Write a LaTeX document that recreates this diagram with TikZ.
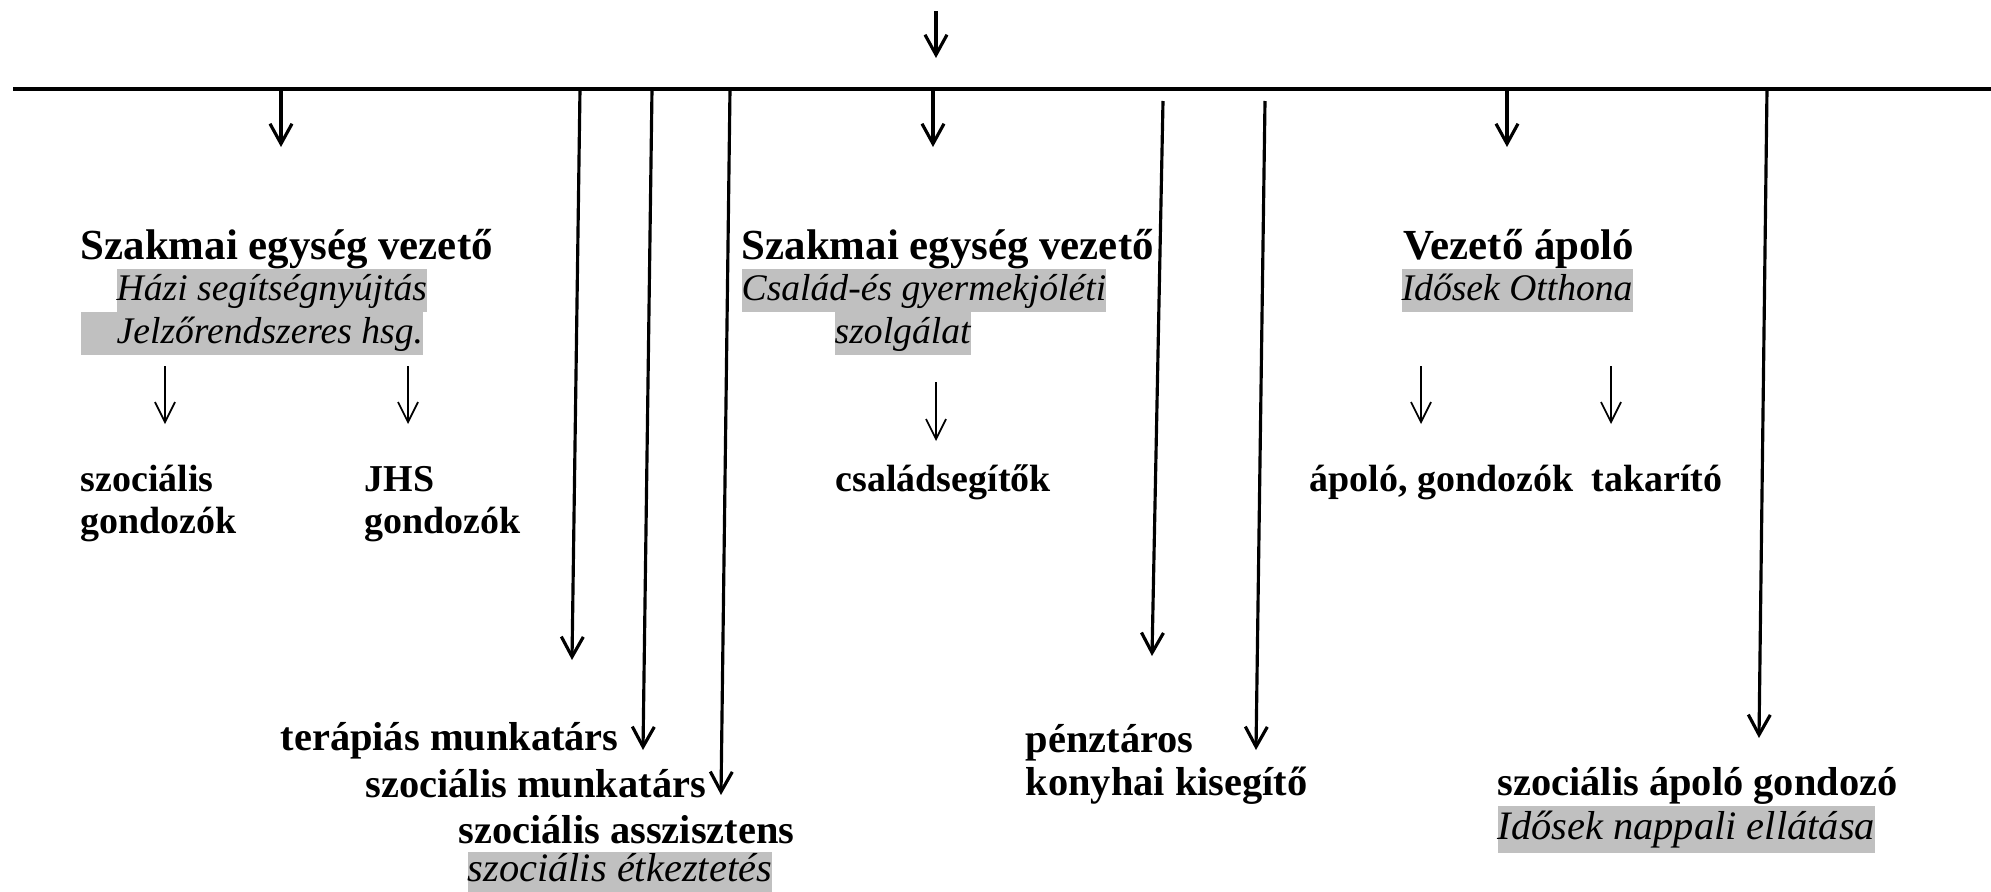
\documentclass[tikz,border=0pt]{standalone}
\usepackage{fontspec}
\setmainfont{Liberation Serif}
\usetikzlibrary{arrows.meta,positioning}
\definecolor{hlgray}{RGB}{192,192,192}

\begin{document}
\begin{tikzpicture}[
		head/.style={font=\fontsize{12.2}{14}\selectfont\bfseries, inner sep=0pt, anchor=base west},
		staff/.style={font=\fontsize{11.5}{13}\selectfont\bfseries, inner sep=0pt, anchor=base west},
		substaff/.style={staff, font=\fontsize{10.8}{13}\selectfont\bfseries},
		unit/.style={font=\fontsize{11.5}{13}\selectfont\itshape, fill=hlgray, inner sep=0pt, text height=0.32cm, text depth=0.11cm, anchor=north west},
		subunit/.style={unit, font=\fontsize{10.7}{13}\selectfont\itshape},
		link/.style={line width=0.9pt, -{Straight Barb[length=2mm,width=2.2mm]}},
		sublink/.style={line width=0.5pt, -{Straight Barb[length=2mm,width=2mm]}}]
	\useasboundingbox (0,0) rectangle (19.91,-8.92);
	% main bar
	\coordinate (barL) at (0.13,-0.89);
	\coordinate (barR) at (19.91,-0.89);
	\draw[line width=1.1pt] (barL) -- (barR);
	\coordinate (top) at (9.36,-0.11);
	\coordinate (topE) at (9.36,-0.58);
	\draw[link] (top) -- (topE);
	% unit heads
	\node[head] (sz1) at (0.80,-2.59) {Szakmai egység vezető};
	\node[subunit] (hazi) at (1.16,-2.68) {Házi segítségnyújtás};
	\node[subunit] (jelzo) at (0.80,-3.11) {\hspace{0.36cm}Jelzőrendszeres hsg.};
	\node[head] (sz2) at (7.41,-2.59) {Szakmai egység vezető};
	\node[subunit] (csal) at (7.41,-2.68) {Család-és gyermekjóléti};
	\node[subunit] (szolg) at (8.34,-3.11) {szolgálat};
	\node[head] (vez) at (14.03,-2.59) {Vezető ápoló};
	\node[subunit] (otthon) at (14.01,-2.68) {Idősek Otthona};
	% staff under the heads
	\node[substaff] (szoc) at (0.80,-4.91) {szociális};
	\node[substaff] (szocG) at (0.80,-5.33) {gondozók};
	\node[substaff] (jhs) at (3.64,-4.91) {JHS};
	\node[substaff] (jhsG) at (3.64,-5.33) {gondozók};
	\node[substaff] (csseg) at (8.35,-4.91) {családsegítők};
	\node[substaff] (apolo) at (13.09,-4.91) {ápoló, gondozók};
	\node[substaff] (takar) at (15.91,-4.91) {takarító};
	% staff at the bottom
	\node[staff] (terap) at (2.80,-7.50) {terápiás munkatárs};
	\node[staff] (szmunk) at (3.65,-7.97) {szociális munkatárs};
	\node[staff] (asszi) at (4.58,-8.43) {szociális asszisztens};
	\node[unit, text height=0.30cm] (etkez) at (4.67,-8.51) {szociális étkeztetés};
	\node[staff] (penz) at (10.25,-7.52) {pénztáros};
	\node[staff] (konyha) at (10.25,-7.95) {konyhai kisegítő};
	\node[staff] (apgond) at (14.97,-7.95) {szociális ápoló gondozó};
	\node[unit, text height=0.34cm, text depth=0.13cm] (nappali) at (14.97,-8.05) {Idősek nappali ellátása};
	% arrows from the bar
	\coordinate (a1) at (2.81,-0.89);  \coordinate (a1E) at (2.81,-1.47);
	\coordinate (a2) at (9.33,-0.89);  \coordinate (a2E) at (9.33,-1.47);
	\coordinate (a3) at (15.07,-0.89); \coordinate (a3E) at (15.07,-1.47);
	\draw[link] (a1) -- (a1E);
	\draw[link] (a2) -- (a2E);
	\draw[link] (a3) -- (a3E);
	% long arrows
	\coordinate (l1) at (5.80,-0.89);  \coordinate (l1E) at (5.72,-6.60);
	\coordinate (l2) at (6.52,-0.89);  \coordinate (l2E) at (6.43,-7.50);
	\coordinate (l3) at (7.30,-0.89);  \coordinate (l3E) at (7.21,-7.95);
	\coordinate (l4) at (11.63,-1.01); \coordinate (l4E) at (11.52,-6.56);
	\coordinate (l5) at (12.65,-1.01); \coordinate (l5E) at (12.56,-7.50);
	\coordinate (l6) at (17.67,-0.89); \coordinate (l6E) at (17.59,-7.38);
	\draw[link] (l1) -- (l1E);
	\draw[link] (l2) -- (l2E);
	\draw[link] (l3) -- (l3E);
	\draw[link] (l4) -- (l4E);
	\draw[link] (l5) -- (l5E);
	\draw[link] (l6) -- (l6E);
	% small arrows
	\coordinate (s1) at (1.65,-3.66);  \coordinate (s1E) at (1.65,-4.24);
	\coordinate (s2) at (4.08,-3.66);  \coordinate (s2E) at (4.08,-4.24);
	\coordinate (s3) at (9.36,-3.82);  \coordinate (s3E) at (9.36,-4.41);
	\coordinate (s4) at (14.21,-3.66); \coordinate (s4E) at (14.21,-4.24);
	\coordinate (s5) at (16.11,-3.66); \coordinate (s5E) at (16.11,-4.24);
	\draw[sublink] (s1) -- (s1E);
	\draw[sublink] (s2) -- (s2E);
	\draw[sublink] (s3) -- (s3E);
	\draw[sublink] (s4) -- (s4E);
	\draw[sublink] (s5) -- (s5E);
\end{tikzpicture}
\end{document}
